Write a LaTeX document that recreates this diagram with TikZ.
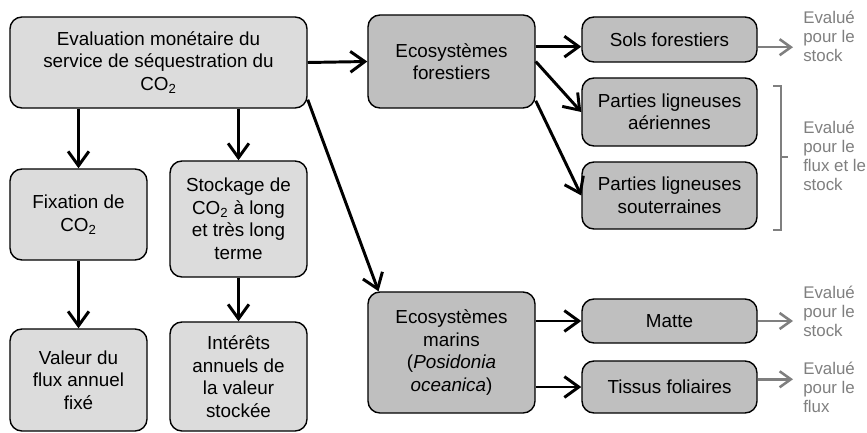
\documentclass[tikz,border=0pt]{standalone}
\usepackage{fontspec}
\setmainfont{Liberation Sans}
\usetikzlibrary{arrows.meta}
\definecolor{boxlight}{HTML}{DCDCDC}
\definecolor{boxdark}{HTML}{BFBFBF}
\definecolor{notegray}{HTML}{7F7F7F}
\begin{document}
\begin{tikzpicture}[x=0.025cm, y=-0.025cm]
\tikzstyle{light}=[draw, rectangle, rounded corners=0.3cm, fill=boxlight, line width=1pt, align=center, inner sep=2pt, font=\fontsize{13.4}{16}\selectfont]
\tikzstyle{dark}=[light, fill=boxdark]
\tikzstyle{line}=[draw, line width=2.1pt, -{Straight Barb[length=3.6mm, width=5.2mm]}]
\tikzstyle{grayline}=[draw, notegray, line width=1.8pt, -{Straight Barb[length=2.8mm, width=4mm]}, shorten >=0.25cm]
\tikzstyle{note}=[anchor=west, align=left, inner sep=0pt, text=notegray, font=\fontsize{12}{13.6}\selectfont]
\tikzstyle{bracket}=[draw, notegray, line width=1.2pt]

\useasboundingbox (0,0) rectangle (867,433);

% Left column
\node[light, minimum width=7.425cm, minimum height=2.275cm] (main) at (158.5,62.5) {Evaluation monétaire du\\service de séquestration du\\CO\textsubscript{2}};
\node[light, minimum width=3.425cm, minimum height=2.275cm] (fix) at (78.5,214.5) {Fixation de\\CO\textsubscript{2}};
\node[light, minimum width=3.425cm, minimum height=2.9cm] (stock) at (238.5,219) {Stockage de\\CO\textsubscript{2} à long\\et très long\\terme};
\node[light, minimum width=3.425cm, minimum height=2.55cm] (val) at (78.5,380) {Valeur du\\flux annuel\\fixé};
\node[light, minimum width=3.425cm, minimum height=2.725cm] (int) at (238.5,376.5) {Intérêts\\annuels de\\la valeur\\stockée};

% Ecosystems
\node[dark, minimum width=4.175cm, minimum height=2.325cm] (forest) at (451.5,61.5) {Ecosystèmes\\forestiers};
\node[dark, minimum width=4.175cm, minimum height=3.025cm] (marins) at (451.5,352.5) {Ecosystèmes\\marins\\(\textit{Posidonia}\\\textit{oceanica})};

% Compartments
\node[dark, minimum width=4.375cm, minimum height=1.125cm] (sols) at (669.5,39.5) {Sols forestiers};
\node[dark, minimum width=4.375cm, minimum height=1.7cm] (aer) at (669.5,112) {Parties ligneuses\\aériennes};
\node[dark, minimum width=4.375cm, minimum height=1.675cm] (sout) at (669.5,195.5) {Parties ligneuses\\souterraines};
\node[dark, minimum width=4.375cm, minimum height=1.1cm] (matte) at (669.5,321) {Matte};
\node[dark, minimum width=4.375cm, minimum height=1.3cm] (tissus) at (669.5,387) {Tissus foliaires};

% Notes
\node[note] (note1) at (803,36) {Evalué\\pour le\\stock};
\node[note] (note2) at (803,156) {Evalué\\pour le\\flux et le\\stock};
\node[note] (note3) at (803,311) {Evalué\\pour le\\stock};
\node[note] (note4) at (803,387) {Evalué\\pour le\\flux};

% Black arrows
\draw[line] (main.south -| fix) -- (fix.north);
\draw[line] (main.south -| stock) -- (stock.north);
\draw[line] (fix) -- (val);
\draw[line] (stock) -- (int);
\draw[line] (main.east) -- (forest.west);
\draw[line] (main.-14) -- (marins.140);
\draw[line] (forest.10) -- (forest.10 -| sols.west);
\draw[line] (forest.east) -- (aer.west);
\draw[line] (forest.-25) -- (sout.west);
\draw[line] (marins.east |- matte) -- (matte.west);
\draw[line] (marins.east |- tissus) -- (tissus.west);

% Gray arrows and bracket
\draw[grayline] (sols.-5) -- (sols.-5 -| note1.west);
\draw[grayline] (matte.east) -- (matte.east -| note3.west);
\draw[grayline] (tissus.5) -- (tissus.5 -| note4.west);
\draw[bracket] (773,86) -- (781,86) -- (781,230) -- (773,230);
\draw[bracket] (781,157) -- (788,157);
\end{tikzpicture}
\end{document}
